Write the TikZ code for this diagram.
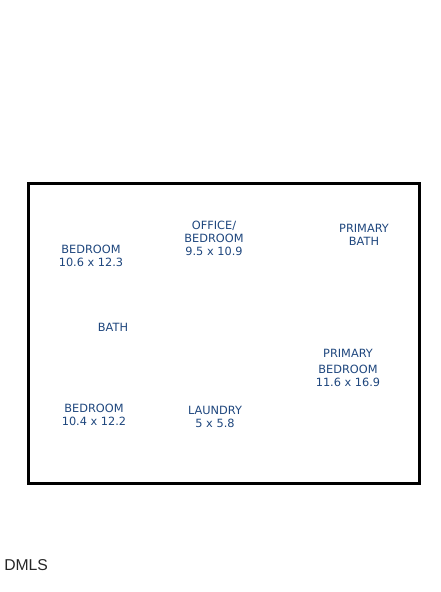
\documentclass[tikz,border=0pt]{standalone}
\usepackage{fontspec}
\setmainfont{DejaVu Sans}
\newfontfamily\mlsfont{Liberation Sans}
\usetikzlibrary{positioning}
\definecolor{roomblue}{RGB}{30,70,125}

\begin{document}
\begin{tikzpicture}[x=0.75pt,y=-0.75pt,
                    room/.style={text=roomblue,align=center,inner sep=0pt,
                      font=\fontsize{8.5}{9.75}\selectfont}
                   ]
  \useasboundingbox (0,0) rectangle (440,592);

  % outline
  \draw[line width=2.3pt] (28.5,183.5) rectangle (419.5,483.5);

  \node[room] (bed1) at (91,256) {BEDROOM\\10.6 x 12.3};
  \node[room] (office) at (214,238) {OFFICE/\\BEDROOM\\9.5 x 10.9};
  \node[room] (pbath) at (364,234.5) {PRIMARY\\BATH};
  \node[room] (bath) at (113,327) {BATH};
  \node[room] (pbed) at (348,368) {PRIMARY\\[2.2pt]BEDROOM\\11.6 x 16.9};
  \node[room] (bed2) at (94,414.5) {BEDROOM\\10.4 x 12.2};
  \node[room] (laundry) at (215,416.5) {LAUNDRY\\5 x 5.8};

  \node[anchor=west,inner sep=0pt,text=black!85,
        font=\mlsfont\fontsize{11.8}{13}\selectfont] (dmls) at (4,565.5) {DMLS};
\end{tikzpicture}
\end{document}
